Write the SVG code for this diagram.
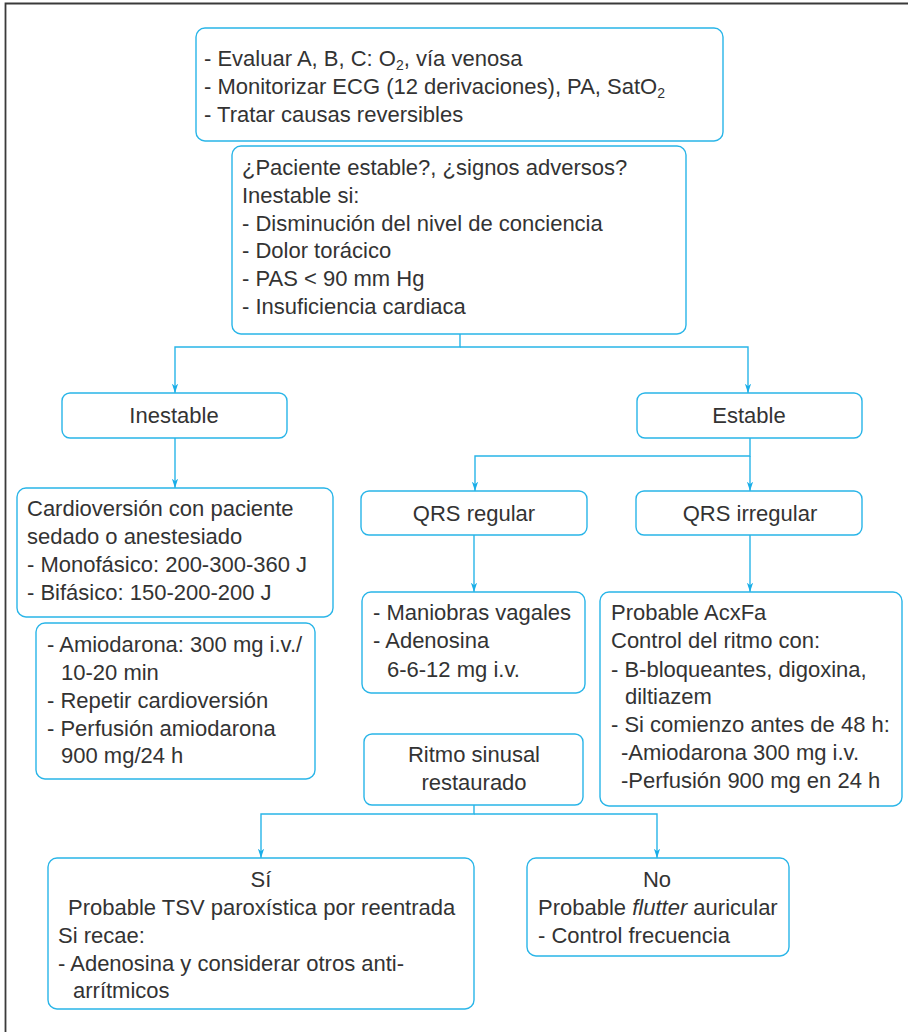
<svg xmlns="http://www.w3.org/2000/svg" width="908" height="1032" viewBox="0 0 908 1032">
  <style>
    .box { fill: #ffffff; stroke: #29b5e8; stroke-width: 1.4; }
    .wire { fill: none; stroke: #29b5e8; stroke-width: 1.4; }
    .frame { fill: none; stroke: #3a3a3a; stroke-width: 1.8; }
    text { font-family: "Liberation Sans", Arial, sans-serif; font-size: 22px; fill: #333333; }
    .c { text-anchor: middle; }
  </style>
  <defs>
    <marker id="arrowDown" markerUnits="userSpaceOnUse" markerWidth="10" markerHeight="16" refX="15" refY="5" orient="auto" viewBox="0 0 16 10">
      <path d="M0,0 L15,5 L0,10 L4,5 Z" fill="#1aaee8"/>
    </marker>
  </defs>

  <!-- page frame -->
  <path class="frame" d="M5.5,1032 V3.5 H908"/>

  <!-- connectors -->
  <g id="connectors">
    <path class="wire" d="M460,334 V347 H175 V393" marker-end="url(#arrowDown)"/>
    <path class="wire" d="M460,347 H748 V393" marker-end="url(#arrowDown)"/>
    <path class="wire" d="M175,438 V488" marker-end="url(#arrowDown)"/>
    <path class="wire" d="M750,438 V456 H475 V491" marker-end="url(#arrowDown)"/>
    <path class="wire" d="M750,456 V491" marker-end="url(#arrowDown)"/>
    <path class="wire" d="M474,535 V592" marker-end="url(#arrowDown)"/>
    <path class="wire" d="M750,535 V592" marker-end="url(#arrowDown)"/>
    <path class="wire" d="M474,805 V814 H261 V858" marker-end="url(#arrowDown)"/>
    <path class="wire" d="M474,814 H657 V858" marker-end="url(#arrowDown)"/>
  </g>

  <g id="evaluar">
    <rect class="box" x="196" y="28" width="527" height="113" rx="9"/>
    <text x="204" y="66">- Evaluar A, B, C: O<tspan font-size="14" dy="4">2</tspan><tspan dy="-4">, vía venosa</tspan></text>
    <text x="204" y="94">- Monitorizar ECG (12 derivaciones), PA, SatO<tspan font-size="14" dy="4">2</tspan></text>
    <text x="204" y="122">- Tratar causas reversibles</text>
  </g>

  <g id="estabilidad">
    <rect class="box" x="232" y="146" width="454" height="188" rx="9"/>
    <text x="242" y="175">¿Paciente estable?, ¿signos adversos?</text>
    <text x="242" y="203">Inestable si:</text>
    <text x="242" y="231">- Disminución del nivel de conciencia</text>
    <text x="242" y="258">- Dolor torácico</text>
    <text x="242" y="286">- PAS &lt; 90 mm Hg</text>
    <text x="242" y="314">- Insuficiencia cardiaca</text>
  </g>

  <g id="inestable">
    <rect class="box" x="62" y="393" width="225" height="45" rx="8"/>
    <text class="c" x="174" y="423">Inestable</text>
  </g>

  <g id="estable">
    <rect class="box" x="637" y="393" width="225" height="45" rx="8"/>
    <text class="c" x="749" y="423">Estable</text>
  </g>

  <g id="cardioversion">
    <rect class="box" x="17" y="488" width="316" height="129" rx="9"/>
    <text x="27" y="516">Cardioversión con paciente</text>
    <text x="27" y="544">sedado o anestesiado</text>
    <text x="27" y="572">- Monofásico: 200-300-360 J</text>
    <text x="27" y="600">- Bifásico: 150-200-200 J</text>
  </g>

  <g id="amiodarona">
    <rect class="box" x="36" y="623" width="279" height="156" rx="9"/>
    <text x="47" y="652">- Amiodarona: 300 mg i.v./</text>
    <text x="61" y="680">10-20 min</text>
    <text x="47" y="708">- Repetir cardioversión</text>
    <text x="47" y="736">- Perfusión amiodarona</text>
    <text x="61" y="763">900 mg/24 h</text>
  </g>

  <g id="qrs-regular">
    <rect class="box" x="361" y="491" width="226" height="44" rx="8"/>
    <text class="c" x="474" y="521">QRS regular</text>
  </g>

  <g id="qrs-irregular">
    <rect class="box" x="636" y="491" width="226" height="44" rx="8"/>
    <text class="c" x="750" y="521">QRS irregular</text>
  </g>

  <g id="maniobras">
    <rect class="box" x="362" y="592" width="223" height="101" rx="9"/>
    <text x="373" y="620">- Maniobras vagales</text>
    <text x="373" y="648">- Adenosina</text>
    <text x="387" y="677">6-6-12 mg i.v.</text>
  </g>

  <g id="acxfa">
    <rect class="box" x="600" y="592" width="302" height="214" rx="9"/>
    <text x="611" y="620">Probable AcxFa</text>
    <text x="611" y="648">Control del ritmo con:</text>
    <text x="611" y="677">- B-bloqueantes, digoxina,</text>
    <text x="625" y="704">diltiazem</text>
    <text x="611" y="732">- Si comienzo antes de 48 h:</text>
    <text x="621" y="760">-Amiodarona 300 mg i.v.</text>
    <text x="621" y="788">-Perfusión 900 mg en 24 h</text>
  </g>

  <g id="ritmo-sinusal">
    <rect class="box" x="364" y="734" width="219" height="71" rx="8"/>
    <text class="c" x="474" y="762">Ritmo sinusal</text>
    <text class="c" x="474" y="790">restaurado</text>
  </g>

  <g id="si">
    <rect class="box" x="48" y="858" width="426" height="151" rx="9"/>
    <text class="c" x="261" y="887">Sí</text>
    <text x="68" y="915">Probable TSV paroxística por reentrada</text>
    <text x="58" y="943">Si recae:</text>
    <text x="58" y="971">- Adenosina y considerar otros anti-</text>
    <text x="73" y="998">arrítmicos</text>
  </g>

  <g id="no">
    <rect class="box" x="527" y="858" width="262" height="98" rx="9"/>
    <text class="c" x="657" y="887">No</text>
    <text x="538" y="915">Probable <tspan font-style="italic">flutter</tspan> auricular</text>
    <text x="538" y="943">- Control frecuencia</text>
  </g>
</svg>
